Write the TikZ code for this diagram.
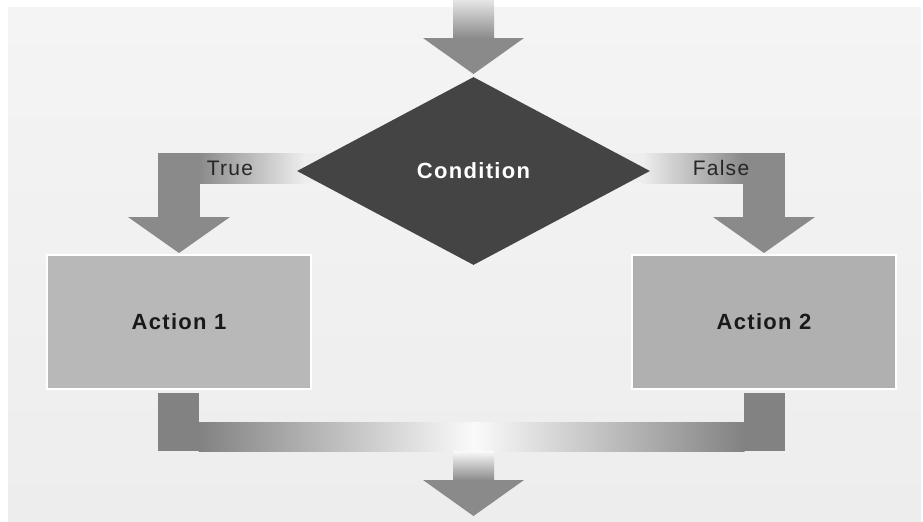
\documentclass[tikz,border=0pt]{standalone}
\usepackage{fontspec}
\setmainfont{Liberation Sans}
\newfontfamily\labfont[LetterSpace=6]{Liberation Sans}
\usetikzlibrary{shapes.geometric, calc, backgrounds}
\usepackage{xcolor}
\definecolor{paneltop}{HTML}{F4F4F4}
\definecolor{panelbot}{HTML}{EDEDED}
\definecolor{flowgray}{HTML}{8A8A8A}
\definecolor{leggray}{HTML}{828282}
\definecolor{fadegray}{HTML}{EEEEEE}
\definecolor{fadewhite}{HTML}{FAFAFA}
\definecolor{condfill}{HTML}{444444}
\definecolor{actonefill}{HTML}{B8B8B8}
\definecolor{acttwofill}{HTML}{B0B0B0}

\begin{document}
\begin{tikzpicture}[
    x=0.75pt, y=-0.75pt,
    cond/.style = {diamond, fill=condfill, minimum width=264.75pt,
                   minimum height=141pt, inner sep=0pt, text=white,
                   font=\labfont\bfseries\fontsize{16.5}{18}\selectfont},
    act/.style  = {draw=white, line width=1.5pt, minimum width=198pt,
                   minimum height=100.5pt, inner sep=0pt, text=black!90,
                   font=\labfont\bfseries\fontsize{16.5}{18}\selectfont},
    lab/.style  = {inner sep=0pt, text=black!85,
                   font=\labfont\fontsize{15.75}{17}\selectfont},
    head/.style = {fill=flowgray},
  ]
    \useasboundingbox (0,0) rectangle (923,521);

    %% ── Main nodes ──────────────────────────────────────────────────────────
    \node[cond]                (cond) at (473.5, 171) {Condition};
    \node[act, fill=actonefill] (act1) at (179,   322) {Action 1};
    \node[act, fill=acttwofill] (act2) at (764,   322) {Action 2};

    %% branch labels
    \node[lab] (truelab)  at (230, 168) {True};
    \node[lab] (falselab) at (721, 168) {False};

    \coordinate (in)  at (473.5,  74);
    \coordinate (out) at (473.5, 516);

    \begin{pgfonlayer}{background}
      %% panel
      \fill[white] (0,0) rectangle (923,521);
      \shade[top color=paneltop, bottom color=panelbot] (8,7) rectangle (921,521);

      %% flow in from above
      \shade[top color=gray!20, bottom color=flowgray] (453,0) rectangle (494,38.5);
      \fill[head] (in) -- ++(-50.5,-36) -- ++(101,0) -- cycle;

      %% True branch
      \fill[flowgray] (158,153) rectangle (199.5,217.5);
      \shade[left color=flowgray, right color=fadegray] (199,153) rectangle (305,183);
      \fill[fadegray] (304,153) rectangle (335,183);
      \fill[head] ($(act1.north)+(0,-1)$) -- ++(-51,-36) -- ++(102,0) -- cycle;

      %% False branch
      \fill[flowgray] (743,153) rectangle (785,217.5);
      \shade[left color=fadegray, right color=flowgray] (642,153) rectangle (743.5,183);
      \fill[fadegray] (612,153) rectangle (643,183);
      \fill[head] ($(act2.north)+(0,-1)$) -- ++(-51,-36) -- ++(102,0) -- cycle;

      %% both actions join again
      \fill[leggray] (158,393) rectangle (199,451);
      \fill[leggray] (744,393) rectangle (785,451);
      \shade[left color=leggray, right color=fadewhite] (198.5,422) rectangle (474,451);
      \shade[left color=fadewhite, right color=leggray] (473.5,422) rectangle (744.5,451);

      %% flow out below
      \shade[top color=fadewhite, bottom color=flowgray] (453,451) rectangle (494,480.5);
      \fill[head] (out) -- ++(-50.5,-36) -- ++(101,0) -- cycle;
    \end{pgfonlayer}

  \end{tikzpicture}
\end{document}
